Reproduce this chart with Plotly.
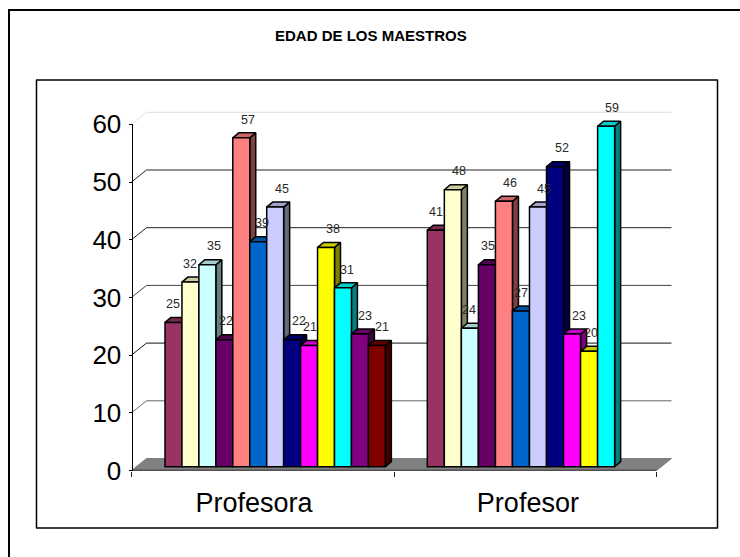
import plotly.graph_objects as go

# Survey data: teacher ages per gender group
categories = ["Profesora", "Profesor"]
ages_profesora = [25, 32, 35, 22, 57, 39, 45, 22, 21, 38, 31, 23, 21]
ages_profesor = [41, 48, 24, 35, 46, 27, 45, 52, 23, 20, 59]
value_ticks = [0, 10, 20, 30, 40, 50, 60]
chart_title = "EDAD DE LOS MAESTROS"

# Styling
series_colors = ["#993366", "#FFFFCC", "#CCFFFF", "#660066", "#FF8080", "#0066CC", "#CCCCFF",
                 "#000080", "#FF00FF", "#FFFF00", "#00FFFF", "#800080", "#800000"]
grid_shades = {10: "#666666", 20: "#111111", 30: "#444444", 40: "#222222", 50: "#222222", 60: "#DDDDDD"}
label_nudges = [[0, 0, 7, 1.5, 6.5, 3.5, 6.5, 7, 0.5, 6.5, 4.5, 5.5, 5.5],
                [0, 6, -0.5, 1.5, 6.5, 0.5, 5.5, 6.5, 6.5, 1.5, 6]]

# Page geometry in pixels
W, H = 740, 557
PX_PER_UNIT = 5.77          # vertical pixels per year of age
BASE_PX = 466.7             # page row of the bars' front base
AXIS_LEFT, AXIS_RIGHT = 131.5, 656.5
AXIS_ZERO_PX, AXIS_TOP_PX = 470.5, 124.3
WALL_DX, WALL_DY = 15, 12   # depth of the back wall
BAR_DX, BAR_DY = 6, 5       # depth of each bar
group_starts = [165.0, 427.3]
slot_widths = [16.95, 17.03]
group_values = [ages_profesora, ages_profesor]

canvas_y_range = [(BASE_PX - H) / PX_PER_UNIT, BASE_PX / PX_PER_UNIT]
bar_dy = BAR_DY / PX_PER_UNIT
front_lift = (BASE_PX - AXIS_ZERO_PX) / PX_PER_UNIT
back_lift = front_lift + WALL_DY / PX_PER_UNIT


def shade(color, factor):
    r, g, b = (int(color[i:i + 2], 16) for i in (1, 3, 5))
    return f"rgb({r * factor:.0f},{g * factor:.0f},{b * factor:.0f})"


def polygon(xs, ys, fill, line="#000000", width=1.5):
    return go.Scatter(x=xs, y=ys, mode="lines", fill="toself", fillcolor=fill,
                      line=dict(color=line, width=width), hoverinfo="skip", showlegend=False)


fig = go.Figure()

# Floor of the chart box
fig.add_trace(polygon(
    [AXIS_LEFT, AXIS_LEFT + WALL_DX, AXIS_RIGHT + WALL_DX, AXIS_RIGHT, AXIS_LEFT],
    [front_lift, back_lift, back_lift, front_lift, front_lift],
    "#808080", line="#808080", width=1))

# Back wall gridlines with their slanted joins to the value axis
for level, tone in grid_shades.items():
    fig.add_trace(go.Scatter(
        x=[AXIS_LEFT, AXIS_LEFT + WALL_DX, AXIS_RIGHT + WALL_DX],
        y=[level + front_lift, level + back_lift, level + back_lift],
        mode="lines", line=dict(color=tone, width=1), hoverinfo="skip", showlegend=False))

# Top and side faces, left to right so nearer faces cover the ones before them
for g, values in enumerate(group_values):
    for i, v in enumerate(values):
        x0 = group_starts[g] + i * slot_widths[g]
        x1 = x0 + slot_widths[g]
        c = series_colors[i]
        fig.add_trace(polygon([x1, x1 + BAR_DX, x1 + BAR_DX, x1, x1],
                              [0, bar_dy, v + bar_dy, v, 0], shade(c, 0.5)))
        fig.add_trace(polygon([x0, x1, x1 + BAR_DX, x0 + BAR_DX, x0],
                              [v, v, v + bar_dy, v + bar_dy, v], shade(c, 0.8)))

# Front faces live on an overlaid subplot so they sit above every top and side face
annotations = []
for g, values in enumerate(group_values):
    for i, v in enumerate(values):
        center = group_starts[g] + (i + 0.5) * slot_widths[g]
        fig.add_trace(go.Bar(x=[center], y=[v], width=[slot_widths[g]], xaxis="x2", yaxis="y2",
                             marker=dict(color=series_colors[i], line=dict(color="#000000", width=1.5)),
                             name=categories[g], showlegend=False))
        annotations.append(dict(x=center, y=v, xref="x2", yref="y2", text=str(v), showarrow=False,
                                xanchor="center", yanchor="middle",
                                xshift=label_nudges[g][i], yshift=18.3,
                                font=dict(family="Liberation Sans", size=12.5, color="#2A2A2A")))

# Real value and category axes along the front edge of the box
fig.add_trace(go.Scatter(x=[0, 2], y=[0, 0], xaxis="x3", yaxis="y3", mode="lines",
                         line=dict(color="#222222", width=1.5), hoverinfo="skip", showlegend=False))

annotations.append(dict(x=0.502, y=1 - 35 / H, xref="paper", yref="paper", text=f"<b>{chart_title}</b>",
                        showarrow=False, xanchor="center", yanchor="middle",
                        font=dict(family="Liberation Sans", size=15, color="#000000")))


def hline(y, x0, x1, width):
    return dict(type="line", xref="paper", yref="paper", x0=x0 / W, x1=x1 / W,
                y0=1 - y / H, y1=1 - y / H, line=dict(color="#000000", width=width))


def vline(x, y0, y1, width):
    return dict(type="line", xref="paper", yref="paper", x0=x / W, x1=x / W,
                y0=1 - y0 / H, y1=1 - y1 / H, line=dict(color="#000000", width=width))


frames = [
    hline(10, 8, 740, 2), vline(9, 10, 557, 2),
    hline(80, 36, 718, 1.5), hline(528, 36, 718, 1.5),
    vline(36.5, 80, 528, 1.5), vline(717.5, 80, 528, 1.5),
]

hidden = dict(visible=False, fixedrange=True, automargin=False)
fig.update_layout(
    template="none",
    width=W, height=H, autosize=False, margin=dict(l=0, r=0, t=0, b=0, pad=0),
    paper_bgcolor="#FFFFFF", plot_bgcolor="rgba(0,0,0,0)", barmode="overlay", showlegend=False,
    xaxis=dict(range=[0, W], domain=[0, 1], **hidden),
    yaxis=dict(range=canvas_y_range, domain=[0, 1], **hidden),
    xaxis2=dict(range=[0, W], overlaying="x", **hidden),
    yaxis2=dict(range=canvas_y_range, overlaying="y", **hidden),
    xaxis3=dict(domain=[AXIS_LEFT / W, AXIS_RIGHT / W], range=[0, 2], anchor="y3", automargin=False,
                tickvals=[0.467, 1.51], ticktext=categories, ticks="", showgrid=False, zeroline=False,
                showline=False, ticklabelstandoff=13,
                minor=dict(tickvals=[0, 1, 2], ticks="outside", ticklen=5, tickcolor="#222222", showgrid=False),
                tickfont=dict(family="Liberation Sans", size=27, color="#000000")),
    yaxis3=dict(domain=[1 - AXIS_ZERO_PX / H, 1 - AXIS_TOP_PX / H], range=[0, 60], anchor="free",
                position=AXIS_LEFT / W, tickvals=value_ticks, ticks="outside", ticklen=3, automargin=False,
                ticklabelstandoff=2,
                tickcolor="#000000", showgrid=False, zeroline=False, showline=True,
                linecolor="#000000", linewidth=1,
                tickfont=dict(family="Liberation Sans", size=26, color="#000000")),
    shapes=frames, annotations=annotations,
)

fig.write_html("out.html", config=dict(displayModeBar=False))
